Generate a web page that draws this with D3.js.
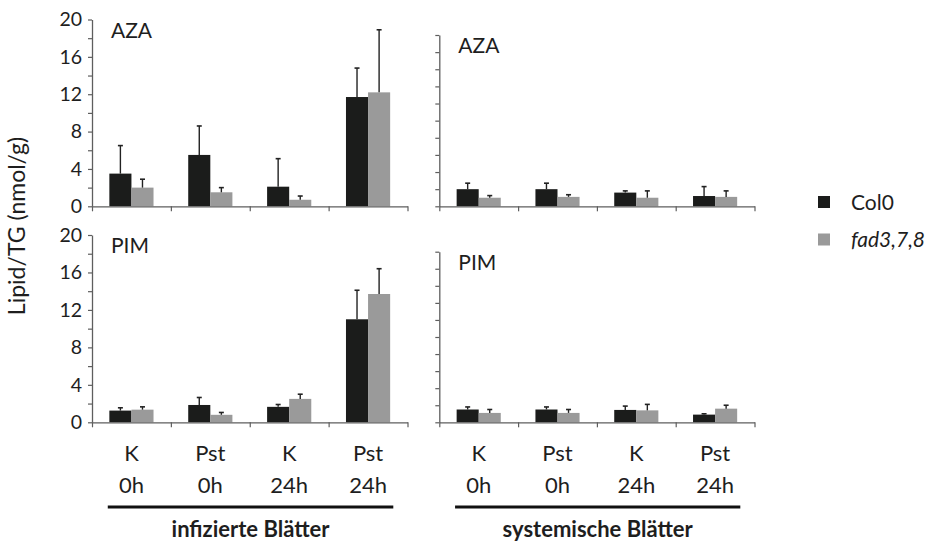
<!DOCTYPE html>
<html>
<head>
<meta charset="utf-8">
<script src="https://cdn.jsdelivr.net/npm/d3@7"></script>
<style>
  html, body { margin: 0; padding: 0; background: #fff; }
  svg { display: block; font-family: Lato, "Open Sans", sans-serif; }
</style>
</head>
<body>
<svg id="chart" width="938" height="544"></svg>
<script>
// Treatment / time point per bar group
const treatments = ["K", "Pst", "K", "Pst"];
const timepoints = ["0h", "0h", "24h", "24h"];
const seriesNames = ["Col0", "fad3,7,8"];
const seriesColors = ["#1b1c1b", "#9a9a9a"];
const yTicks = [0, 2, 4, 6, 8, 10, 12, 14, 16, 18, 20];

// AZA, infected leaves
const azaInfCol0 = [3.5, 5.5, 2.1, 11.7];
const azaInfCol0Err = [3.0, 3.1, 3.0, 3.1];
const azaInfFad = [2.0, 1.5, 0.7, 12.2];
const azaInfFadErr = [0.9, 0.5, 0.4, 6.7];
// AZA, systemic leaves
const azaSysCol0 = [2.0, 2.0, 1.6, 1.2];
const azaSysCol0Err = [0.7, 0.7, 0.2, 1.1];
const azaSysFad = [1.0, 1.1, 1.0, 1.1];
const azaSysFadErr = [0.25, 0.25, 0.8, 0.7];
// PIM, infected leaves
const pimInfCol0 = [1.25, 1.85, 1.65, 11.0];
const pimInfCol0Err = [0.3, 0.8, 0.25, 3.1];
const pimInfFad = [1.35, 0.8, 2.5, 13.7];
const pimInfFadErr = [0.3, 0.25, 0.5, 2.7];
// PIM, systemic leaves
const pimSysCol0 = [1.5, 1.5, 1.45, 0.9];
const pimSysCol0Err = [0.3, 0.3, 0.45, 0.1];
const pimSysFad = [1.1, 1.1, 1.4, 1.6];
const pimSysFadErr = [0.4, 0.4, 0.7, 0.4];

const groupLabels = ["infizierte Blätter", "systemische Blätter"];

const svg = d3.select("#chart");
const axisColor = "#5e5e5e";
const textColor = "#1e1e1e";

const panels = [
  { title: "AZA", x0: 92, x1: 407.5, y0: 19.5, y1: 206.3, labels: true,
    vals: [azaInfCol0, azaInfFad], errs: [azaInfCol0Err, azaInfFadErr] },
  { title: "AZA", x0: 439.3, x1: 754.5, y0: 35, y1: 206.3, labels: false,
    vals: [azaSysCol0, azaSysFad], errs: [azaSysCol0Err, azaSysFadErr] },
  { title: "PIM", x0: 92, x1: 407.5, y0: 235, y1: 422.3, labels: true,
    vals: [pimInfCol0, pimInfFad], errs: [pimInfCol0Err, pimInfFadErr] },
  { title: "PIM", x0: 439.3, x1: 754.5, y0: 251.7, y1: 422.3, labels: false,
    vals: [pimSysCol0, pimSysFad], errs: [pimSysCol0Err, pimSysFadErr] }
];

panels.forEach(p => {
  const g = svg.append("g");
  const y = d3.scaleLinear().domain([0, 20]).range([p.y1, p.y0]);
  const x = d3.scaleBand().domain(d3.range(treatments.length)).range([p.x0, p.x1]);
  const bw = x.bandwidth();
  const xs = d3.scaleBand().domain(d3.range(seriesNames.length))
    .range([bw * 0.22, bw * 0.78]);
  const boundary = d3.scaleLinear().domain([0, treatments.length]).range([p.x0, p.x1]);

  // bars and upward error bars
  seriesNames.forEach((s, si) => {
    const rows = p.vals[si].map((v, i) => ({ i, v, e: p.errs[si][i] }));
    g.selectAll(null).data(rows).join("rect")
      .attr("x", d => x(d.i) + xs(si))
      .attr("y", d => y(d.v))
      .attr("width", xs.bandwidth())
      .attr("height", d => y(0) - y(d.v))
      .attr("fill", seriesColors[si]);
    const cx = d => x(d.i) + xs(si) + xs.bandwidth() / 2;
    g.selectAll(null).data(rows).join("line")
      .attr("x1", cx).attr("x2", cx)
      .attr("y1", d => y(d.v)).attr("y2", d => y(d.v + d.e))
      .attr("stroke", "#222").attr("stroke-width", 1.4);
    g.selectAll(null).data(rows).join("line")
      .attr("x1", d => cx(d) - 2.5).attr("x2", d => cx(d) + 2.5)
      .attr("y1", d => y(d.v + d.e)).attr("y2", d => y(d.v + d.e))
      .attr("stroke", "#222").attr("stroke-width", 1.6);
  });

  // y axis
  const ya = g.append("g").attr("transform", `translate(${p.x0},0)`)
    .call(d3.axisLeft(y).tickValues(yTicks).tickSize(4).tickSizeOuter(0)
      .tickFormat(d => (p.labels && d % 4 === 0) ? d : ""));
  ya.select(".domain").attr("stroke", axisColor).attr("stroke-width", 1.3);
  ya.selectAll(".tick line").attr("stroke", axisColor).attr("stroke-width", 1.2);
  ya.selectAll(".tick text").attr("x", -10).attr("fill", textColor)
    .style("font-size", "19.5px").style("font-family", "Lato, sans-serif");

  // x axis with ticks at group boundaries
  const xa = g.append("g").attr("transform", `translate(0,${p.y1})`)
    .call(d3.axisBottom(boundary).tickValues(d3.range(treatments.length + 1))
      .tickSize(5).tickSizeOuter(0).tickFormat(""));
  xa.select(".domain").attr("stroke", axisColor).attr("stroke-width", 1.3);
  xa.selectAll(".tick line").attr("stroke", axisColor).attr("stroke-width", 1.2);

  // panel title
  g.append("text").attr("x", p.x0 + 19).attr("y", p.y0 + 18)
    .attr("fill", textColor).style("font-size", "21px").text(p.title);
});

// category labels under both columns
[panels[2], panels[3]].forEach((p, gi) => {
  const x = d3.scaleBand().domain(d3.range(treatments.length)).range([p.x0, p.x1]);
  const g = svg.append("g");
  g.selectAll(null).data(treatments).join("text")
    .attr("x", (d, i) => x(i) + x.bandwidth() / 2).attr("y", 461)
    .attr("text-anchor", "middle").attr("fill", textColor)
    .style("font-size", "22px").text(d => d);
  g.selectAll(null).data(timepoints).join("text")
    .attr("x", (d, i) => x(i) + x.bandwidth() / 2).attr("y", 493)
    .attr("text-anchor", "middle").attr("fill", textColor)
    .style("font-size", "22px").text(d => d);
  const first = x(0) + x.bandwidth() * 0.2;
  const last = x(treatments.length - 1) + x.bandwidth() * 0.82;
  g.append("line").attr("x1", first).attr("x2", last)
    .attr("y1", 507).attr("y2", 507)
    .attr("stroke", "#111").attr("stroke-width", 3);
  g.append("text").attr("x", (first + last) / 2).attr("y", 537)
    .attr("text-anchor", "middle").attr("fill", textColor)
    .style("font-size", "22px").style("font-weight", "bold")
    .text(groupLabels[gi]);
});

// y axis title
svg.append("text")
  .attr("transform", "translate(25,226) rotate(-90)")
  .attr("text-anchor", "middle").attr("fill", textColor)
  .style("font-size", "23px").text("Lipid/TG (nmol/g)");

// legend
const legend = svg.append("g");
seriesNames.forEach((s, i) => {
  const cy = 202 + i * 37.5;
  legend.append("rect").attr("x", 818).attr("y", cy - 6)
    .attr("width", 12).attr("height", 12).attr("fill", seriesColors[i]);
  legend.append("text").attr("x", 851).attr("y", cy + 7.5)
    .attr("fill", textColor).style("font-size", "21px")
    .style("font-style", i === 1 ? "italic" : "normal").text(s);
});
</script>
</body>
</html>
